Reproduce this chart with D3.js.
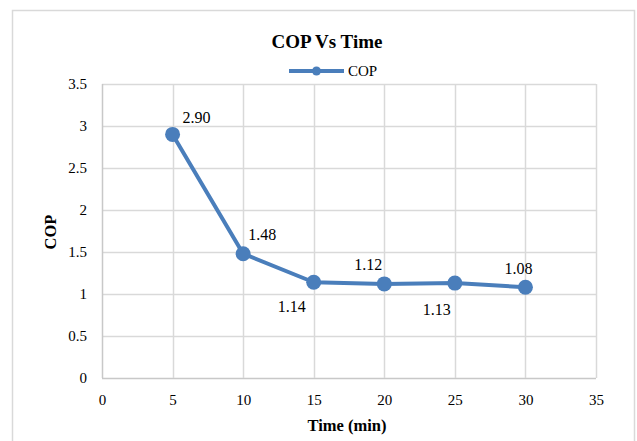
<!DOCTYPE html>
<html>
<head>
<meta charset="utf-8">
<script src="https://cdn.jsdelivr.net/npm/d3@7"></script>
<style>
  body { margin: 0; background: #fff; }
  text { font-family: "Liberation Serif", "DejaVu Serif", serif; fill: #000; }
  .tick text { font-size: 15px; }
  .title { font-size: 19px; font-weight: bold; }
  .axis_label { font-size: 16.5px; font-weight: bold; }
  .dlabel { font-size: 16px; }
</style>
</head>
<body>
<svg width="637" height="441"></svg>
<script>
var times = [5, 10, 15, 20, 25, 30];
var cop = [2.90, 1.48, 1.14, 1.12, 1.13, 1.08];
var xTicks = [0, 5, 10, 15, 20, 25, 30, 35];
var yTicks = [0, 0.5, 1, 1.5, 2, 2.5, 3, 3.5];

// label placement (dx, dy from point), as Excel put them
var labelOffset = [[24, -11], [19, -14], [-22, 30], [-16, -14], [-18, 32], [-7, -13]];

var svg = d3.select("svg"),
  margin = { left: 102, right: 41, top: 84, bottom: 63 },
  width = 637 - margin.left - margin.right,
  height = 441 - margin.top - margin.bottom,
  color = "#4a7ebb";

svg.append("rect")
  .attr("x", 12.5).attr("y", 10.5)
  .attr("width", 622).attr("height", 440)
  .attr("fill", "#fff")
  .attr("stroke", "#d9d9d9")
  .attr("stroke-width", 1.5);

var g = svg.append("g")
  .attr("transform", "translate(" + margin.left + "," + margin.top + ")");

var x = d3.scaleLinear().domain([0, 35]).range([0, width]);
var y = d3.scaleLinear().domain([0, 3.5]).range([height, 0]);

// gridlines
g.selectAll("line.hgrid")
  .data(yTicks)
  .enter()
  .append("line")
  .attr("class", "hgrid")
  .attr("x1", 0).attr("x2", width)
  .attr("y1", d => Math.round(y(d)) + 0.5)
  .attr("y2", d => Math.round(y(d)) + 0.5)
  .attr("stroke", d => d === 0 ? "#c8c8c8" : "#d9d9d9")
  .attr("stroke-width", 1.5);

g.selectAll("line.vgrid")
  .data(xTicks)
  .enter()
  .append("line")
  .attr("class", "vgrid")
  .attr("x1", d => Math.round(x(d)) + 0.5)
  .attr("x2", d => Math.round(x(d)) + 0.5)
  .attr("y1", 0).attr("y2", height)
  .attr("stroke", d => d === 0 ? "#c8c8c8" : "#d9d9d9")
  .attr("stroke-width", 1.5);

var xAxis = g.append("g")
  .attr("transform", "translate(0," + height + ")")
  .call(d3.axisBottom(x).tickValues(xTicks).tickSize(0).tickPadding(16));
xAxis.select(".domain").remove();

var yAxis = g.append("g")
  .call(d3.axisLeft(y).tickValues(yTicks).tickFormat(d => String(d)).tickSize(0).tickPadding(15));
yAxis.select(".domain").remove();

// series
var pts = times.map((t, i) => ({ t: t, v: cop[i], i: i }));

g.append("path")
  .datum(pts)
  .attr("fill", "none")
  .attr("stroke", color)
  .attr("stroke-width", 4)
  .attr("stroke-linejoin", "round")
  .attr("d", d3.line().x(d => x(d.t)).y(d => y(d.v)));

g.selectAll("circle.pt")
  .data(pts)
  .enter()
  .append("circle")
  .attr("class", "pt")
  .attr("cx", d => x(d.t))
  .attr("cy", d => y(d.v))
  .attr("r", 7.5)
  .attr("fill", color);

g.selectAll("text.dlabel")
  .data(pts)
  .enter()
  .append("text")
  .attr("class", "dlabel")
  .attr("text-anchor", "middle")
  .attr("x", d => x(d.t) + labelOffset[d.i][0])
  .attr("y", d => y(d.v) + labelOffset[d.i][1])
  .text(d => d.v.toFixed(2));

// titles
svg.append("text")
  .attr("class", "title")
  .attr("x", 327).attr("y", 48)
  .attr("text-anchor", "middle")
  .text("COP Vs Time");

svg.append("text")
  .attr("class", "axis_label")
  .attr("text-anchor", "middle")
  .attr("transform", "translate(56," + (margin.top + height / 2 + 1) + ")rotate(-90)")
  .text("COP");

svg.append("text")
  .attr("class", "axis_label")
  .attr("text-anchor", "middle")
  .attr("x", 347).attr("y", 431)
  .text("Time (min)");

// legend
var legend = { x1: 289, x2: 344, y: 71 };
svg.append("line")
  .attr("x1", legend.x1).attr("x2", legend.x2)
  .attr("y1", legend.y).attr("y2", legend.y)
  .attr("stroke", color).attr("stroke-width", 4);
svg.append("circle")
  .attr("cx", (legend.x1 + legend.x2) / 2).attr("cy", legend.y)
  .attr("r", 4.5).attr("fill", color);
svg.append("text")
  .attr("x", legend.x2 + 4).attr("y", legend.y + 5)
  .style("font-size", "15px")
  .text("COP");
</script>
</body>
</html>
